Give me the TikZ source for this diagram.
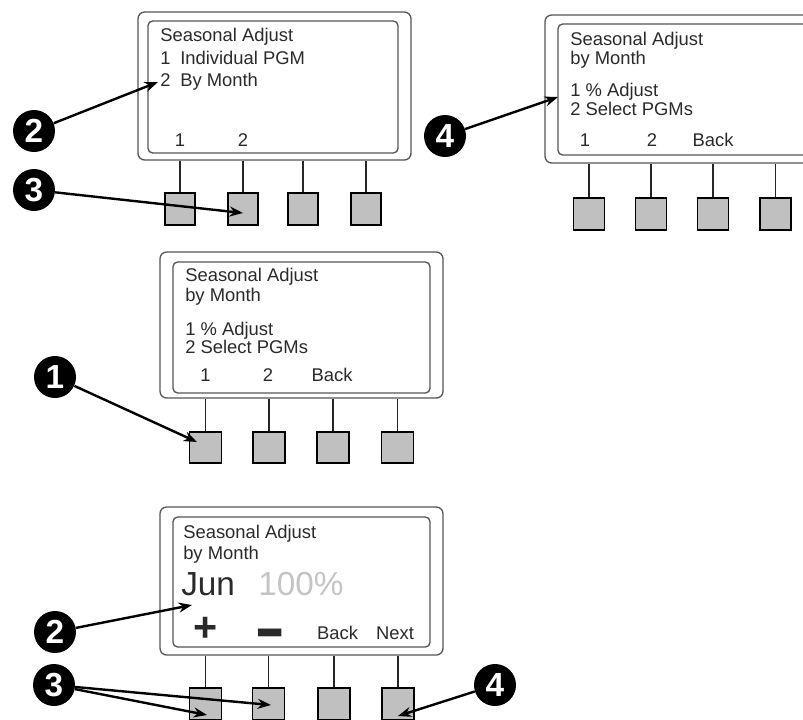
\documentclass[tikz,border=0pt]{standalone}
\usepackage{fontspec}
\usepackage{graphicx}
\setmainfont{Liberation Sans}
\usetikzlibrary{arrows.meta}
\definecolor{ink}{HTML}{2A2A2A}
\definecolor{frame}{HTML}{555555}
\definecolor{btnfill}{HTML}{C0C0C0}
\definecolor{dimtext}{HTML}{C4C4C4}
\begin{document}
\begin{tikzpicture}[x=0.75pt,y=-0.75pt,
  box/.style 2 args={minimum width=#1*0.75pt, minimum height=#2*0.75pt, inner sep=0pt},
  outer/.style={draw=frame, line width=1pt, rounded corners=5pt},
  screen/.style={draw=frame, line width=1pt, rounded corners=3.5pt},
  btn/.style={draw=black, fill=btnfill, line width=0.9pt},
  stem/.style={draw=black!85, line width=0.8pt},
  lcd/.style={anchor=base west, inner sep=0pt, text=ink, font=\fontsize{13.8}{13.8}\selectfont},
  key/.style={anchor=base, inner sep=0pt, text=ink, font=\fontsize{13.8}{13.8}\selectfont},
  badge/.style={circle, fill=black, text=white, inner sep=0pt, minimum size=31.5pt,
    font=\fontsize{25}{25}\selectfont\bfseries},
  callout/.style={-{Stealth[length=10pt,width=7.5pt]}, line width=1.8pt, draw=black}
]
\useasboundingbox (0,0) rectangle (803,719);
\clip (0,0) rectangle (803,719);

% ---------- Panel 1 (top left) ----------
\node[outer, box={273}{148}] (p1o) at (274.5,86) {};
\node[screen, box={250}{132}] (p1s) at (273,87) {};
\foreach \i/\x in {1/180,2/243,3/303,4/366}{
  \node[btn, box={30}{32}] (p1b\i) at (\x,209) {};
  \draw[stem] (p1b\i.north) -- (p1b\i.north |- p1o.south);
}
\node[lcd] (p1t1) at (160,41.5) {Seasonal Adjust};
\node[lcd] (p1t2) at (160,64) {1};
\node[lcd] (p1t3) at (180,64) {Individual PGM};
\node[lcd] (p1t4) at (160,86) {2};
\node[lcd] (p1t5) at (180,86) {By Month};
\node[key] (p1k1) at (180,146.5) {1};
\node[key] (p1k2) at (243,146.5) {2};
\node[badge] (p1n2) at (34,131) {2};
\node[badge] (p1n3) at (34,190) {3};
\coordinate (p1a2) at (158,82);
\coordinate (p1a3) at (243,213);
\draw[callout] (p1n2) -- (p1a2);
\draw[callout] (p1n3) -- (p1a3);

% ---------- Panel 2 (top right) ----------
\node[outer, box={335}{148}] (p2o) at (712.5,89) {};
\node[screen, box={312}{131}] (p2s) at (714,89.5) {};
\foreach \i/\x in {1/589,2/651,3/713,4/775.5}{
  \node[btn, box={31}{32}] (p2b\i) at (\x,214) {};
  \draw[stem] (p2b\i.north) -- (p2b\i.north |- p2o.south);
}
\node[lcd] (p2t1) at (570,45) {Seasonal Adjust};
\node[lcd] (p2t2) at (570,64) {by Month};
\node[lcd] (p2t3) at (570,96.5) {1 \% Adjust};
\node[lcd] (p2t4) at (570,115) {2 Select PGMs};
\node[key] (p2k1) at (585,146.5) {1};
\node[key] (p2k2) at (652,146.5) {2};
\node[key] (p2k3) at (713,146.5) {Back};
\node[badge] (p2n4) at (445,136) {4};
\coordinate (p2a4) at (558,97);
\draw[callout] (p2n4) -- (p2a4);

% ---------- Panel 3 (middle) ----------
\node[outer, box={283}{146}] (p3o) at (301.5,325) {};
\node[screen, box={257}{131}] (p3s) at (301.5,327.5) {};
\foreach \i/\x in {1/205.5,2/269,3/333,4/397.5}{
  \node[btn, box={32}{31}] (p3b\i) at (\x,447.5) {};
  \draw[stem] (p3b\i.north) -- (p3b\i.north |- p3o.south);
}
\node[lcd] (p3t1) at (185,281) {Seasonal Adjust};
\node[lcd] (p3t2) at (185,301) {by Month};
\node[lcd] (p3t3) at (185,335) {1 \% Adjust};
\node[lcd] (p3t4) at (185,353) {2 Select PGMs};
\node[key] (p3k1) at (205.5,381.5) {1};
\node[key] (p3k2) at (268,381.5) {2};
\node[key] (p3k3) at (332,381.5) {Back};
\node[badge] (p3n1) at (55,377) {1};
\coordinate (p3a1) at (197,442);
\draw[callout] (p3n1) -- (p3a1);

% ---------- Panel 4 (bottom) ----------
\node[outer, box={283}{148}] (p4o) at (301.5,581) {};
\node[screen, box={257}{130}] (p4s) at (301.5,582) {};
\foreach \i/\x in {1/205.5,2/268.5,3/334,4/398}{
  \node[btn, box={32}{32}] (p4b\i) at (\x,704) {};
  \draw[stem] (p4b\i.north) -- (p4b\i.north |- p4o.south);
}
\node[lcd] (p4t1) at (183,538) {Seasonal Adjust};
\node[lcd] (p4t2) at (183,559) {by Month};
\node[lcd, font=\fontsize{25}{25}\selectfont] (p4t3) at (181,595.5) {Jun};
\node[lcd, text=dimtext, font=\fontsize{25}{25}\selectfont] (p4t4) at (258,595.5) {100\%};
\node[inner sep=0pt, text=ink, font=\fontsize{31}{31}\selectfont\bfseries] (p4k1) at (206,629) {+};
\node[anchor=base, inner sep=0pt, text=ink, font=\fontsize{28}{28}\selectfont\bfseries] (p4k2) at (270,656) {\scalebox{1.25}[1.9]{−}};
\node[key] (p4k3) at (337.5,639.5) {Back};
\node[key] (p4k4) at (395,639.5) {Next};
\node[badge] (p4n2) at (55,632) {2};
\node[badge] (p4n3) at (54,685) {3};
\node[badge] (p4n4) at (495,685) {4};
\coordinate (p4a2) at (192,605);
\coordinate (p4a3) at (207,715);
\coordinate (p4a3b) at (271,705);
\coordinate (p4a4) at (398,716);
\draw[callout] (p4n2) -- (p4a2);
\draw[callout] (p4n3) -- (p4a3);
\draw[callout] (p4n3) -- (p4a3b);
\draw[callout] (p4n4) -- (p4a4);
\end{tikzpicture}
\end{document}
